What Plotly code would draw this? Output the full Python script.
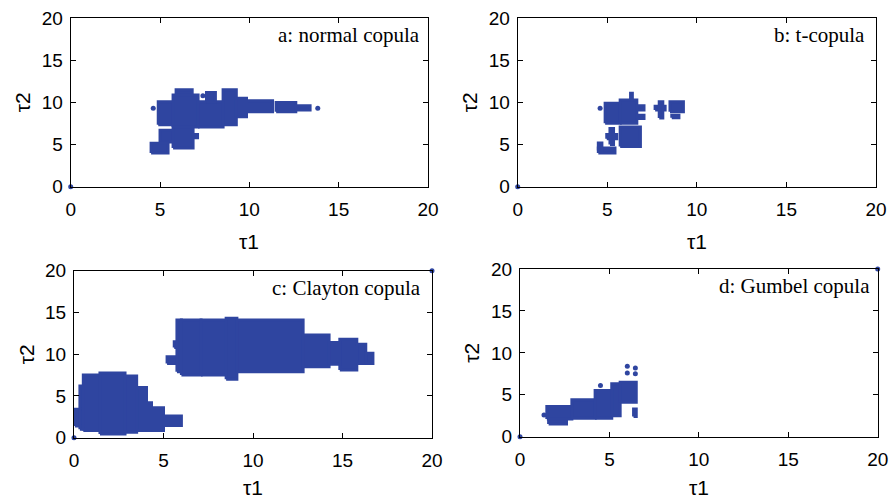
import plotly.graph_objects as go

COLOR = "#2f45a0"

# ---- data: blocks of dense points (x0, x1, y0, y1) and isolated dots ----
A_X0 = [4.9, 5.73, 5.9, 7.13, 7.6, 8.53, 9.27, 9.84, 11.5, 12.6, 5.73, 5.0, 4.5, 6.85]
A_X1 = [5.73, 7.13, 6.8, 8.53, 8.1, 9.27, 9.84, 11.3, 12.6, 13.4, 6.85, 5.73, 5.45, 7.1]
A_Y0 = [7.35, 7.1, 10.9, 7.1, 10.1, 7.35, 8.3, 8.9, 8.9, 9.1, 4.6, 5.3, 4.0, 5.8]
A_Y1 = [10.1, 10.9, 11.5, 10.1, 11.2, 11.5, 10.5, 10.2, 10.0, 9.6, 7.1, 6.7, 5.15, 6.2]
A_DOT_X = [0, 4.62, 13.83, 7.4]
A_DOT_Y = [0, 9.33, 9.33, 10.8]

B_X0 = [4.88, 5.72, 6.3, 6.65, 6.65, 7.67, 7.9, 8.5, 8.6, 5.72, 4.97, 5.15, 4.5, 4.5]
B_X1 = [5.72, 6.65, 6.4, 7.05, 7.05, 8.23, 8.1, 9.25, 9.0, 6.85, 5.53, 5.35, 5.43, 4.7]
B_Y0 = [7.55, 7.55, 10.3, 9.1, 8.1, 9.1, 8.15, 8.9, 8.2, 4.76, 5.7, 5.0, 4.0, 4.3]
B_Y1 = [9.9, 10.3, 11.1, 9.6, 8.5, 9.55, 10.1, 10.1, 8.5, 7.1, 6.2, 6.9, 4.6, 5.2]
B_DOT_X = [0, 4.6]
B_DOT_Y = [0, 9.33]

C_X0 = [0.05, 0.33, 0.52, 1.45, 2.85, 3.5, 4.05, 4.33, 5.0,
        5.2, 5.6, 5.75, 6.0, 7.1, 8.5, 9.1, 12.8, 14.25, 14.85, 15.8, 16.3]
C_X1 = [0.33, 0.52, 1.45, 2.85, 3.5, 4.05, 4.33, 5.0, 6.0,
        5.75, 5.75, 6.0, 7.1, 8.5, 9.1, 12.8, 14.25, 14.85, 15.8, 16.3, 16.7]
C_Y0 = [1.4, 1.0, 0.85, 0.45, 0.65, 0.85, 0.85, 0.85, 1.45,
        8.9, 10.8, 7.9, 7.5, 7.5, 7.0, 7.9, 8.5, 8.8, 8.1, 8.9, 8.9]
C_Y1 = [3.4, 6.2, 7.5, 7.75, 7.4, 6.0, 4.2, 3.6, 2.6,
        9.7, 11.5, 14.1, 14.1, 14.1, 14.3, 14.1, 12.3, 11.4, 11.8, 11.2, 10.1]
C_DOT_X = [0, 20]
C_DOT_Y = [0, 20]

D_X0 = [1.5, 1.6, 2.9, 4.2, 5.13, 5.6, 6.35]
D_X1 = [2.9, 2.6, 4.2, 5.13, 5.6, 6.5, 6.5]
D_Y0 = [2.1, 1.5, 2.2, 2.2, 2.5, 4.1, 2.4]
D_Y1 = [3.6, 2.1, 4.4, 5.5, 6.3, 6.5, 3.3]
D_DOT_X = [0, 20, 1.34, 6.0, 6.45, 6.0, 6.45, 4.5]
D_DOT_Y = [0, 20, 2.6, 8.4, 8.2, 7.6, 7.5, 6.1]

LABELS = ["a: normal copula", "b: t-copula", "c: Clayton copula", "d: Gumbel copula"]
TICKS = [0, 5, 10, 15, 20]
XTITLE = "τ1"
YTITLE = "τ2"

panels = [
    (A_X0, A_X1, A_Y0, A_Y1, A_DOT_X, A_DOT_Y),
    (B_X0, B_X1, B_Y0, B_Y1, B_DOT_X, B_DOT_Y),
    (C_X0, C_X1, C_Y0, C_Y1, C_DOT_X, C_DOT_Y),
    (D_X0, D_X1, D_Y0, D_Y1, D_DOT_X, D_DOT_Y),
]

W, H = 890, 498
# pixel boxes of the four plot areas (left, right, top, bottom), x-title centre y, label right x
boxes = [(70.7, 428.0, 18.3, 186.7, 241, 421.7), (517.7, 876.0, 18.3, 186.7, 241, 866.7),
         (74.0, 432.0, 270.7, 437.7, 487, 423.3), (520.0, 877.7, 269.0, 436.7, 487, 872.3)]

fig = go.Figure()
layout = dict(width=W, height=H, margin=dict(l=0, r=0, t=0, b=0, autoexpand=False),
              plot_bgcolor="white", paper_bgcolor="white", showlegend=False,
              font=dict(family="Liberation Sans, Arial", size=19, color="black"))
annotations = []
for i, ((x0, x1, y0, y1, dx, dy), (L, R, T, B, TY, LR)) in enumerate(zip(panels, boxes)):
    n = "" if i == 0 else str(i + 1)
    xs, ys = [], []
    for a, b, c, d in zip(x0, x1, y0, y1):
        xs += [a, b, b, a, a, None]
        ys += [c, c, d, d, c, None]
    fig.add_trace(go.Scatter(x=xs, y=ys, mode="lines", fill="toself", fillcolor=COLOR,
                             line=dict(color=COLOR, width=3), connectgaps=False,
                             xaxis="x" + n, yaxis="y" + n, hoverinfo="skip"))
    fig.add_trace(go.Scatter(x=dx, y=dy, mode="markers", cliponaxis=False,
                             marker=dict(color=COLOR, size=5),
                             xaxis="x" + n, yaxis="y" + n))
    ax = dict(range=[0, 20], tickvals=TICKS, ticks="inside", ticklen=5, tickcolor="black",
              showline=True, linecolor="black", linewidth=1, mirror="ticks",
              showgrid=False, zeroline=False, tickfont=dict(size=19), automargin=False)
    layout["xaxis" + n] = dict(ax, domain=[L / W, R / W], anchor="y" + n, ticklabelstandoff=5)
    layout["yaxis" + n] = dict(ax, domain=[1 - B / H, 1 - T / H], anchor="x" + n,
                               ticklabelstandoff=3)
    annotations.append(dict(text=XTITLE, xref="paper", yref="paper", x=(L + R) / 2 / W,
                            y=1 - TY / H, showarrow=False, font=dict(size=21),
                            xanchor="center", yanchor="middle"))
    annotations.append(dict(text=YTITLE, xref="paper", yref="paper", x=(L - 48) / W,
                            y=1 - (T + B) / 2 / H, showarrow=False, font=dict(size=21),
                            textangle=-90, xanchor="center", yanchor="middle"))
    annotations.append(dict(text=LABELS[i], xref="x" + n + " domain", yref="y" + n + " domain",
                            x=(LR - L) / (R - L), y=1 - 17 / (B - T), showarrow=False,
                            xanchor="right", yanchor="middle",
                            font=dict(family="Liberation Serif, Times New Roman", size=21)))
layout["annotations"] = annotations
fig.update_layout(**layout)
fig.write_html("out.html", config={"displayModeBar": False},
               post_script="document.body.style.margin='0px';")
